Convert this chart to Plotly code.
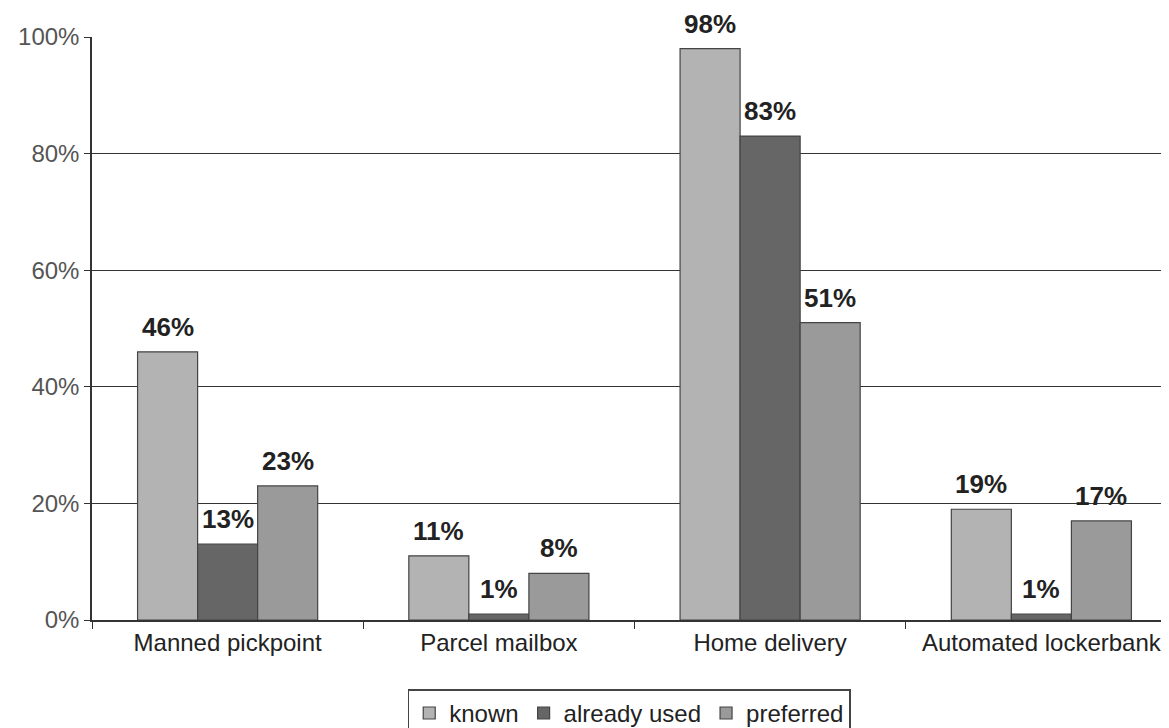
import plotly.graph_objects as go

categories = ["Manned pickpoint", "Parcel mailbox", "Home delivery", "Automated lockerbank"]
known = [46, 11, 98, 19]
already_used = [13, 1, 83, 1]
preferred = [23, 8, 51, 17]
series_names = ["known", "already used", "preferred"]
colors = ["#b3b3b3", "#666666", "#9a9a9a"]

W, H = 1169, 728
ML, MR, MT, MB = 84, 0, 29, 116
BARGAP = 0.336
FONT = "Liberation Sans, Arial"

fig = go.Figure()
all_series = [known, already_used, preferred]
for name, vals, col in zip(series_names, all_series, colors):
    fig.add_trace(go.Bar(
        x=categories, y=vals, name=name,
        marker=dict(color=col, line=dict(color="#444444", width=1.2)),
        hoverinfo="x+y+name",
    ))

# data labels above bars, offset by series within the group
plot_w = W - ML - MR
bar_w = plot_w / len(categories) * (1 - BARGAP) / len(all_series)
for si, vals in enumerate(all_series):
    off = (si - (len(all_series) - 1) / 2) * bar_w
    for cat, v in zip(categories, vals):
        fig.add_annotation(
            x=cat, y=v, xref="x", yref="y", text=f"<b>{v}%</b>",
            showarrow=False, xanchor="center", yanchor="bottom",
            xshift=off, yshift=9, borderpad=0,
            font=dict(family=FONT, size=26, color="#222222"),
        )

fig.update_layout(
    width=W, height=H,
    margin=dict(l=ML, r=MR, t=MT, b=MB, autoexpand=False),
    plot_bgcolor="white", paper_bgcolor="white",
    barmode="group", bargap=BARGAP, bargroupgap=0,
    font=dict(family=FONT, size=24, color="#333333"),
    legend=dict(orientation="h", x=0.291, xanchor="left", y=-0.119, yanchor="top",
                bordercolor="#444444", borderwidth=1.5, font=dict(size=24, color="#222222"),
                itemwidth=30, tracegroupgap=0),
    showlegend=True,
)
fig.update_yaxes(range=[0, 100], dtick=20, ticksuffix="%", showgrid=True,
                 gridcolor="#333333", gridwidth=1, showline=True, linecolor="#333333",
                 linewidth=1.5, ticks="outside", ticklen=6, tickcolor="#333333",
                 tickfont=dict(size=24, color="#555555"), zeroline=False, automargin=False)
fig.update_xaxes(showline=True, linecolor="#333333", linewidth=1.5, ticks="outside",
                 tickson="boundaries", ticklen=7, tickcolor="#333333", automargin=False,
                 tickfont=dict(size=24, color="#222222"))

fig.write_html("out.html")
